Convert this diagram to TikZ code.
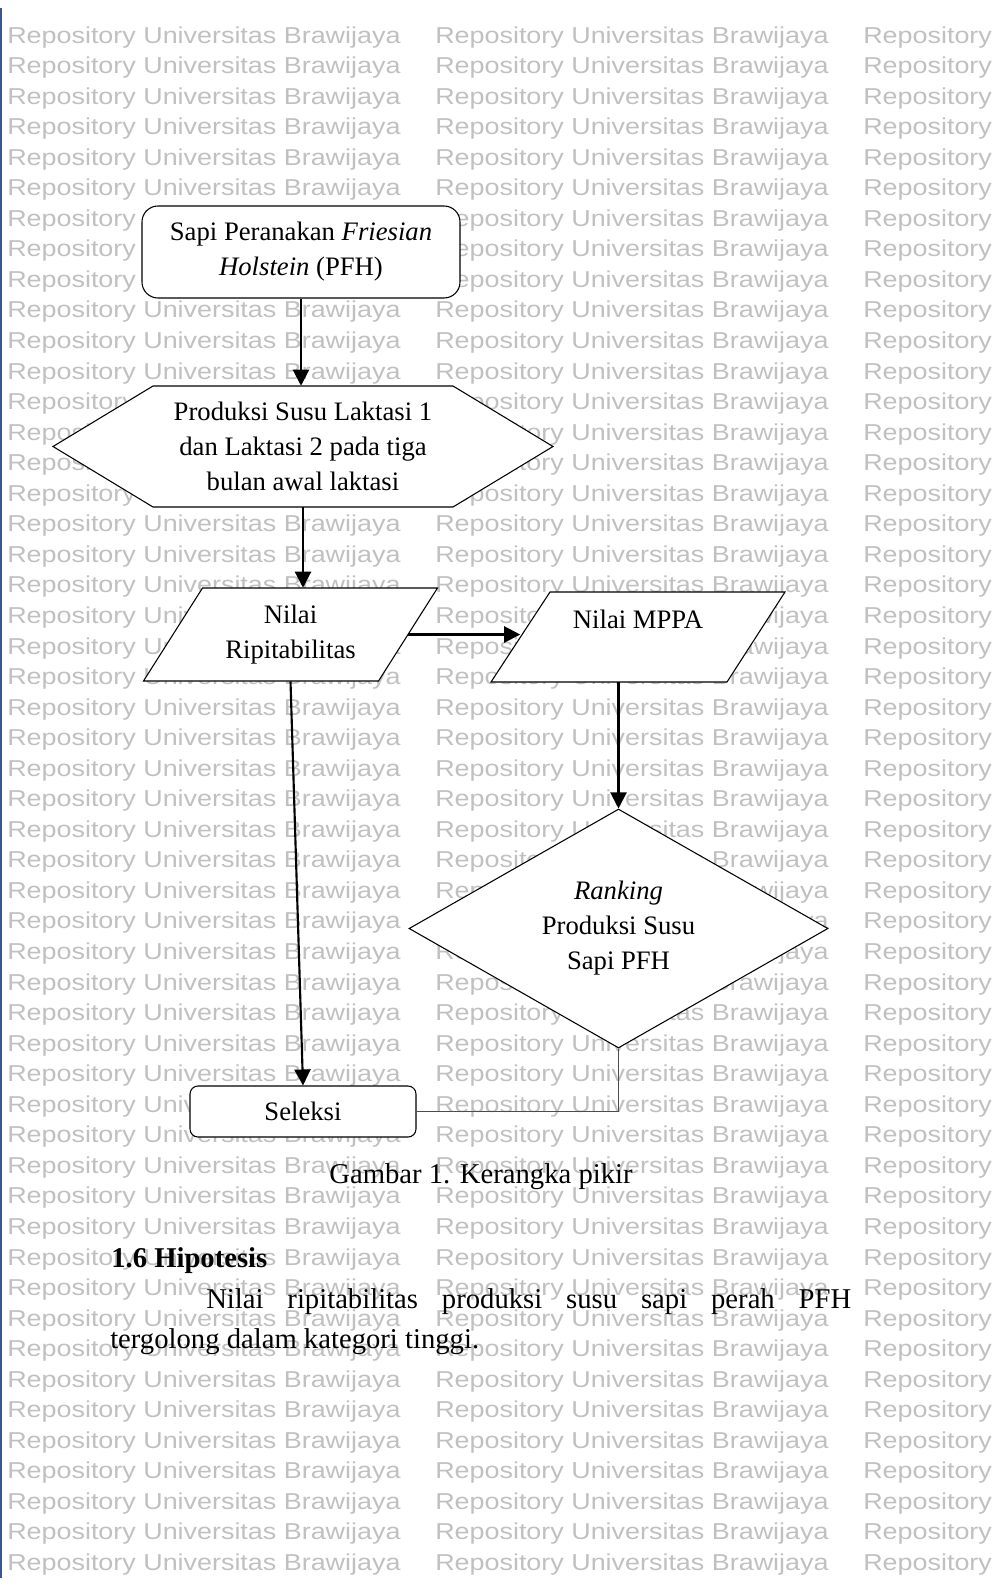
\documentclass[tikz,border=0pt]{standalone}
\usepackage{fontspec}
\setmainfont{Liberation Serif}
\newfontfamily\wmfont{Liberation Sans}
\usepackage{graphicx}
\usetikzlibrary{positioning,arrows.meta,calc,shapes.geometric}
\definecolor{wmgray}{RGB}{192,192,192}
\definecolor{edgeblue}{RGB}{58,86,150}
\newcommand{\wmtext}[1]{\scalebox{1.17}[1]{\wmfont #1}}

\begin{document}
\begin{tikzpicture}[x=0.75pt, y=-0.75pt,
  font=\fontsize{20}{26.25}\selectfont,
  shp/.style={draw, line width=0.8pt, fill=white},
  rbox/.style={shp, rounded corners=12pt, align=center, inner sep=0pt},
  plain/.style={inner sep=0pt, align=center},
  body/.style={inner sep=0pt, font=\fontsize{21.5}{28}\selectfont},
  arr/.style={line width=1.6pt, -{Triangle[length=12pt,width=12pt]}},
  wmark/.style={text=wmgray, inner sep=0pt, anchor=base west, font=\fontsize{17.25}{17.25}\selectfont}]

\useasboundingbox (0,0) rectangle (996,1588);

% watermark rows behind everything
\foreach \k in {0,...,50} {
    \node[wmark] (wmA\k) at (7,{43+30.55*\k}) {\wmtext{Repository Universitas Brawijaya}};
    \node[wmark] (wmB\k) at (435,{43+30.55*\k}) {\wmtext{Repository Universitas Brawijaya}};
    \node[wmark] (wmC\k) at (863,{43+30.55*\k}) {\wmtext{Repository}};
}
\draw[edgeblue, line width=1.6pt] (1,8) -- (1,1578);

% start box
\node[rbox, minimum width=238.5pt, minimum height=69pt] (sapi) at (301,252)
    {Sapi Peranakan \textit{Friesian}\\\textit{Holstein} (PFH)};

% hexagon (outline first, text node on top)
\coordinate (produksiC) at (303,446.5);
\draw[shp] ($(produksiC)+(-250,0)$) -- ($(produksiC)+(-150,-60.5)$) -- ($(produksiC)+(150,-60.5)$)
    -- ($(produksiC)+(250,0)$) -- ($(produksiC)+(150,60.5)$) -- ($(produksiC)+(-150,60.5)$) -- cycle;
\node[plain, minimum width=225pt, minimum height=90.75pt] (produksi) at (produksiC)
    {Produksi Susu Laktasi 1\\dan Laktasi 2 pada tiga\\bulan awal laktasi};

% parallelograms
\coordinate (ripitC) at (290.5,634.5);
\draw[shp] ($(ripitC)+(-88,-46.5)$) -- ($(ripitC)+(147,-46.5)$) -- ($(ripitC)+(88,46.5)$) -- ($(ripitC)+(-147,46.5)$) -- cycle;
\node[plain, minimum width=176.25pt, minimum height=69.75pt] (ripit) at (ripitC) {Nilai\\Ripitabilitas};

\coordinate (mppaC) at (638,637);
\draw[shp] ($(mppaC)+(-88,-45)$) -- ($(mppaC)+(147,-45)$) -- ($(mppaC)+(89,45)$) -- ($(mppaC)+(-147,45)$) -- cycle;
\node[plain, minimum width=176.25pt, minimum height=67.5pt] (mppa) at (mppaC) {Nilai MPPA\\~};

% decision
\node[shp, diamond, aspect=1.75, inner sep=0pt, align=center, minimum width=314.25pt, minimum height=179.25pt]
    (ranking) at (618.5,928.5) {\textit{Ranking}\\Produksi Susu\\Sapi PFH};

% end box
\node[rbox, rounded corners=6pt, minimum width=169.5pt, minimum height=38.25pt] (seleksi) at (303,1111.5) {Seleksi};

% connectors
\draw[arr] (sapi.south) -- (sapi.south |- produksi.north);
\draw[arr] (produksi.south) -- (produksi.south |- ripit.north);
\draw[arr] (ripit.east) -- (ripit.east -| mppa.west);
\draw[arr] (ripit.south) -- (seleksi.north);
\draw[arr] (ranking.north |- mppa.south) -- (ranking.north);
\draw[line width=0.8pt, black!70] (ranking.south) |- (seleksi.east);

% caption and text below
\node[body] (gambar) at (481,1177) {Gambar 1. Kerangka pikir};
\node[body, anchor=west, font=\fontsize{21.5}{28}\selectfont\bfseries] (hipotesis) at (111,1261) {1.6 Hipotesis};
\node[body, anchor=base west] (hipo1) at (206,1308)
    {\makebox[483.75pt][s]{Nilai ripitabilitas produksi susu sapi perah PFH}};
\node[body, anchor=base west] (hipo2) at (110,1348) {tergolong dalam kategori tinggi.};
\end{tikzpicture}
\end{document}
